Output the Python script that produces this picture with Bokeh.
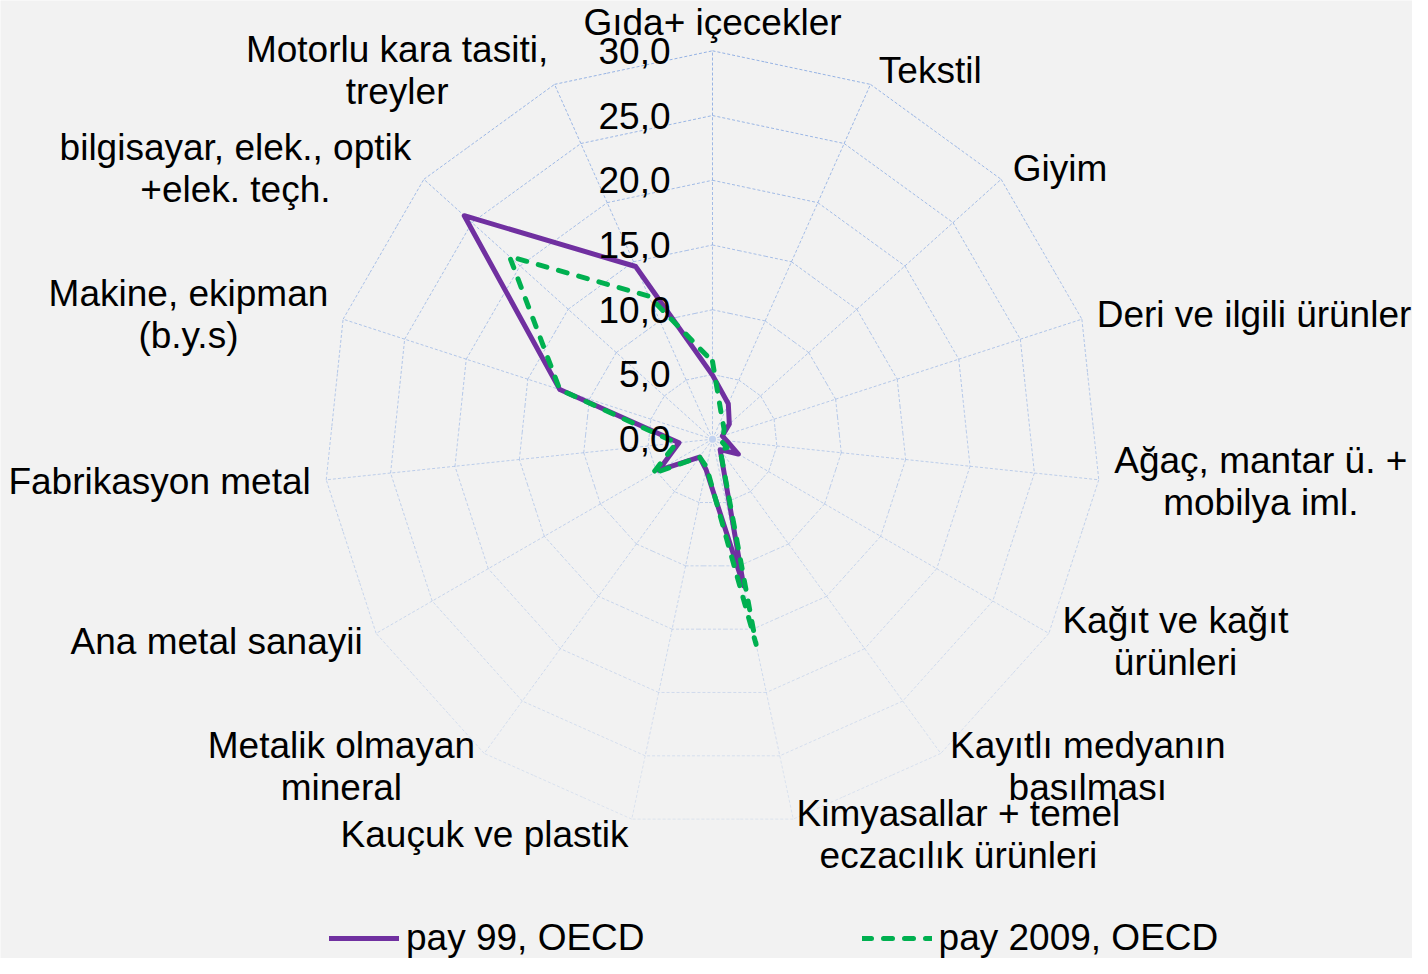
import math
from bokeh.plotting import figure
from bokeh.models import Range1d, Legend, LegendItem
from bokeh.embed import file_html
from bokeh.resources import INLINE
from bokeh.core.properties import value

# ---------------- data ----------------
categories = [
    "Gıda+ içecekler",
    "Tekstil",
    "Giyim",
    "Deri ve ilgili ürünler",
    "Ağaç, mantar ü. +\nmobilya iml.",
    "Kağıt ve kağıt\nürünleri",
    "Kayıtlı medyanın\nbasılması",
    "Kimyasallar + temel\neczacılık ürünleri",
    "Kauçuk ve plastik",
    "Metalik olmayan\nmineral",
    "Ana metal sanayii",
    "Fabrikasyon metal",
    "Makine, ekipman\n(b.y.s)",
    "bilgisayar, elek., optik\n+elek. teçh.",
    "Motorlu kara tasiti,\ntreyler",
]
pay_99 = [4.95, 3.0, 1.75, 0.8, 1.1, 2.3, 1.0, 11.6, 2.4, 1.7, 4.8, 2.6, 12.4, 25.8, 14.6]
pay_2009 = [6.0, 1.8, 1.2, 0.9, 0.6, 1.3, 1.0, 16.2, 2.2, 1.7, 5.35, 2.8, 12.4, 21.1, 12.1]
series_names = ["pay 99, OECD", "pay 2009, OECD"]
ticks = [0, 5, 10, 15, 20, 25, 30]
tick_labels = ["0,0", "5,0", "10,0", "15,0", "20,0", "25,0", "30,0"]

# ---------------- layout / style ----------------
W, H = 1412, 958
S = 388.4 / 30.0            # px per unit
CX, CY = 712.0, 438.7       # centre in plot px (from left, from top)
FONT = "Liberation Sans"
FS = 37
BG = "#f2f2f2"
PURPLE = "#7030a0"
GREEN = "#00b050"
GRID = "#7fa3e0"

n = len(categories)
angles = [math.radians(90 - 360.0 / n * i) for i in range(n)]

p = figure(width=W, height=H, output_backend="svg", toolbar_location=None,
           x_range=Range1d(-CX / S, (W - CX) / S),
           y_range=Range1d(-(H - CY) / S, CY / S),
           min_border=0, background_fill_color=BG, border_fill_color=BG,
           outline_line_color=None)
p.axis.visible = False
p.xgrid.visible = False
p.ygrid.visible = False

# ---------------- grid (fading from top to bottom) ----------------
rmax = ticks[-1]
def alpha_for(y):
    t = (y + rmax) / (2 * rmax)
    return 0.18 + 0.64 * max(0.0, min(1.0, t))

gx0, gy0, gx1, gy1, ga = [], [], [], [], []
def add_seg(xa, ya, xb, yb, parts):
    for k in range(parts):
        t0, t1 = k / parts, (k + 1) / parts
        x0, y0 = xa + (xb - xa) * t0, ya + (yb - ya) * t0
        x1, y1 = xa + (xb - xa) * t1, ya + (yb - ya) * t1
        gx0.append(x0); gy0.append(y0); gx1.append(x1); gy1.append(y1)
        ga.append(alpha_for((y0 + y1) / 2))

for a in angles:
    add_seg(0, 0, rmax * math.cos(a), rmax * math.sin(a), 6)
for r in ticks[1:]:
    for i in range(n):
        a0, a1 = angles[i], angles[(i + 1) % n]
        add_seg(r * math.cos(a0), r * math.sin(a0), r * math.cos(a1), r * math.sin(a1), 3)

p.segment(x0=gx0, y0=gy0, x1=gx1, y1=gy1, line_color=GRID, line_alpha=ga,
          line_width=1, line_dash="3 2")
p.scatter(x=[0], y=[0], size=7, color="#c3d3f0", line_color=None)

# ---------------- series ----------------
def poly(vals):
    xs = [v * math.cos(a) for v, a in zip(vals, angles)]
    ys = [v * math.sin(a) for v, a in zip(vals, angles)]
    return xs + xs[:1], ys + ys[:1]

x1, y1 = poly(pay_99)
x2, y2 = poly(pay_2009)
r1 = p.line(x1, y1, line_color=PURPLE, line_width=5, line_join="round", line_cap="round")
r2 = p.line(x2, y2, line_color=GREEN, line_width=5, line_join="round", line_cap="round",
            line_dash="9 12")

# ---------------- tick labels ----------------
p.text(x=[-42 / S] * len(ticks), y=ticks, text=tick_labels,
       text_font=value(FONT), text_font_size=f"{FS}px", text_color="black",
       text_align="right", text_baseline="middle")

# ---------------- category labels ----------------
CW = {' ': 278, '+': 584, ',': 278, '.': 278, '(': 333, ')': 333,
      'A': 667, 'D': 722, 'F': 611, 'G': 778, 'K': 667, 'M': 833, 'T': 611,
      'a': 556, 'b': 556, 'c': 500, 'd': 556, 'e': 556, 'f': 278, 'g': 556, 'h': 556,
      'i': 222, 'j': 222, 'k': 500, 'l': 222, 'm': 833, 'n': 556, 'o': 556, 'p': 556,
      'r': 333, 's': 500, 't': 278, 'u': 556, 'v': 500, 'y': 500, 'z': 500,
      'ı': 278, 'ç': 500, 'ğ': 556, 'ü': 556}
def text_w(s):
    return sum(CW.get(ch, 556) for ch in s) / 1000.0 * FS

RL = 404 / S
LH = 42 / S
TOP_LIMIT = (CY - 22) / S    # keep the top label inside the canvas
lx, ly, lt = [], [], []
for lab, a in zip(categories, angles):
    lines = lab.split("\n")
    c, s = math.cos(a), math.sin(a)
    ax, ay = RL * c, RL * s
    bw = max(text_w(t) for t in lines) / S
    if abs(c) < 0.05:
        bx = ax
        ay = min(ay + LH * len(lines) / 2, TOP_LIMIT)
    elif c > 0:
        bx = ax + bw / 2
    else:
        bx = ax - bw / 2
    m = len(lines)
    for k, t in enumerate(lines):
        lx.append(bx)
        ly.append(ay + (m - 1) / 2 * LH - k * LH)
        lt.append(t)

p.text(x=lx, y=ly, text=lt, text_font=value(FONT), text_font_size=f"{FS}px",
       text_color="black", text_align="center", text_baseline="middle")

# ---------------- legend ----------------
legend = Legend(items=[LegendItem(label=series_names[0], renderers=[r1]),
                       LegendItem(label=series_names[1], renderers=[r2])],
                orientation="horizontal", location=(329, -1),
                glyph_width=70, glyph_height=30, label_height=30,
                label_standoff=7, spacing=217, padding=0, margin=0,
                label_text_font=FONT, label_text_font_size=f"{FS}px",
                label_text_color="black",
                background_fill_alpha=0, border_line_alpha=0)
p.add_layout(legend)

open("out.html", "w").write(file_html(p, INLINE))
